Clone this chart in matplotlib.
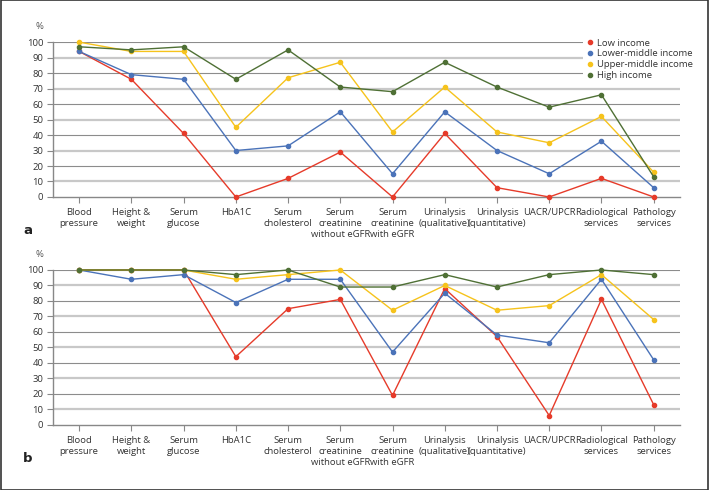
import numpy as np
import matplotlib
matplotlib.use("Agg")
import matplotlib.pyplot as plt
from matplotlib.patches import Rectangle

plt.rcParams['font.family'] = ['Open Sans', 'DejaVu Sans']

categories = ["Blood\npressure", "Height &\nweight", "Serum\nglucose", "HbA1C",
              "Serum\ncholesterol", "Serum\ncreatinine\nwithout eGFR",
              "Serum\ncreatinine\nwith eGFR", "Urinalysis\n(qualitative)",
              "Urinalysis\n(quantitative)", "UACR/UPCR", "Radiological\nservices",
              "Pathology\nservices"]
groups = ["Low income", "Lower-middle income", "Upper-middle income", "High income"]
colors = ["#e63b2a", "#4b73b9", "#f6c31c", "#4f7035"]

# panel a
a_low = [94, 76, 41, 0, 12, 29, 0, 41, 6, 0, 12, 0]
a_lowmid = [94, 79, 76, 30, 33, 55, 15, 55, 30, 15, 36, 6]
a_upmid = [100, 94, 94, 45, 77, 87, 42, 71, 42, 35, 52, 16]
a_high = [97, 95, 97, 76, 95, 71, 68, 87, 71, 58, 66, 13]

# panel b
b_low = [100, 100, 100, 44, 75, 81, 19, 88, 57, 6, 81, 13]
b_lowmid = [100, 94, 97, 79, 94, 94, 47, 85, 58, 53, 94, 42]
b_upmid = [100, 100, 100, 94, 97, 100, 74, 90, 74, 77, 97, 68]
b_high = [100, 100, 100, 97, 100, 89, 89, 97, 89, 97, 100, 97]

yticks = list(range(0, 101, 10))
FS = 6.8


def draw_panel(ax, series, letter, legend=False):
    x = np.arange(len(categories))
    for t in yticks[1:]:
        if t % 20 == 10:
            ax.axhline(t, color="#c8c8c8", lw=1.6, zorder=0)
        else:
            ax.axhline(t, color="#8c8c8c", lw=0.8, zorder=0)
    for vals, c, name in zip(series, colors, groups):
        ax.plot(x, vals, color=c, lw=1.0, marker="o", ms=3.0, label=name,
                clip_on=False, zorder=3)
    ax.set_xlim(-0.5, len(categories) - 0.5)
    ax.set_ylim(0, 100)
    ax.set_yticks(yticks)
    ax.set_xticks(x)
    ax.set_xticklabels(categories, fontsize=FS, color="#333333", linespacing=1.3)
    ax.tick_params(axis="y", labelsize=FS, colors="#333333", length=4, color="#888888",
                   width=0.8, pad=3)
    ax.tick_params(axis="x", length=4, color="#888888", width=0.8, pad=4)
    for s in ["top", "right"]:
        ax.spines[s].set_visible(False)
    for s in ["left", "bottom"]:
        ax.spines[s].set_color("#888888")
        ax.spines[s].set_linewidth(1.0)
    ax.text(-0.021, 1.10, "%", transform=ax.transAxes, fontsize=FS,
            color="#555555", ha="center", va="center")
    ax.text(-0.04, -0.215, letter, transform=ax.transAxes, fontsize=9.5,
            fontweight="bold", color="#222222", ha="center", va="center",
            family="DejaVu Sans")
    if legend:
        handles = [plt.Line2D([], [], ls="none", marker="o", ms=3.0, color=c) for c in colors]
        leg = ax.legend(handles, groups, loc="upper left", bbox_to_anchor=(0.845, 1.035),
                        frameon=True, fontsize=FS, handletextpad=0.1,
                        labelspacing=0.2, borderpad=0.2, handlelength=1.2,
                        borderaxespad=0)
        leg.get_frame().set_edgecolor("none")
        leg.get_frame().set_facecolor("white")
        leg.get_frame().set_alpha(1)
        for t in leg.get_texts():
            t.set_color("#333333")


fig = plt.figure(figsize=(7.09, 4.90), dpi=100)
ax_a = fig.add_axes([0.0748, 0.598, 0.884, 0.316])
ax_b = fig.add_axes([0.0748, 0.133, 0.884, 0.316])

draw_panel(ax_a, [a_low, a_lowmid, a_upmid, a_high], "a", legend=True)
draw_panel(ax_b, [b_low, b_lowmid, b_upmid, b_high], "b")

fig.patches.append(Rectangle((0.001, 0.001), 0.998, 0.998, transform=fig.transFigure,
                             fill=False, edgecolor="#333333", lw=1.2))

fig.savefig("out.png", dpi=100)
